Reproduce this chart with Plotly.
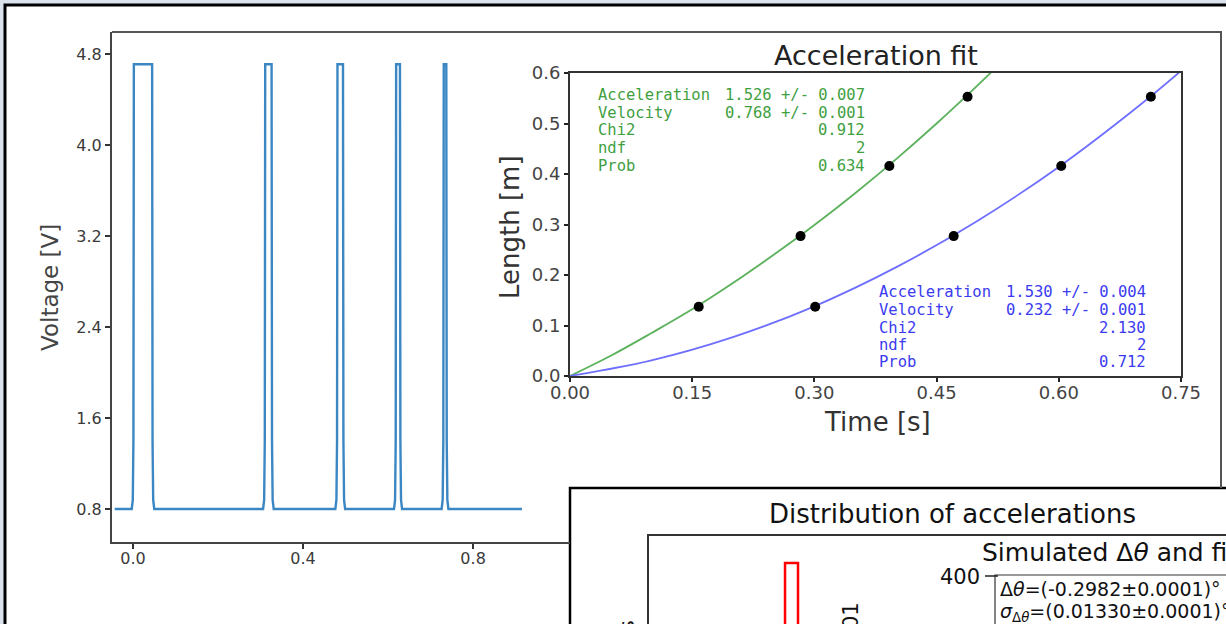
import plotly.graph_objects as go

W, H = 1226, 624
FONT = "DejaVu Sans"
MONO = "DejaVu Sans Mono"


def fx(p):
    return p / W


def fy(p):
    return 1 - p / H


# ---------------- data ----------------
# voltage signal: pulse start / end times [s]
pulse_start = [0.002, 0.311, 0.481, 0.619, 0.731]
pulse_end = [0.045, 0.326, 0.494, 0.628, 0.737]
v_low = 0.80
v_high = 4.71
t_first = -0.043
t_last = 0.915

volt_ticks = [0.8, 1.6, 2.4, 3.2, 4.0, 4.8]
volt_tlabels = ["0.8", "1.6", "2.4", "3.2", "4.0", "4.8"]
time_ticks = [0.0, 0.4, 0.8]
time_tlabels = ["0.0", "0.4", "0.8"]

# acceleration fit: measured points
green_t = [0.158, 0.283, 0.392, 0.488]
green_l = [0.137, 0.277, 0.416, 0.553]
blue_t = [0.301, 0.471, 0.603, 0.713]
blue_l = [0.137, 0.277, 0.416, 0.553]
# fitted curves
green_fit_t = [0.0, 0.05, 0.10, 0.15, 0.20, 0.25, 0.30, 0.35, 0.40, 0.45, 0.50, 0.53]
green_fit_l = [0.0, 0.040, 0.085, 0.132, 0.184, 0.240, 0.299, 0.362, 0.429, 0.500, 0.575, 0.622]
blue_fit_t = [0.0, 0.10, 0.20, 0.30, 0.40, 0.50, 0.60, 0.70, 0.76]
blue_fit_l = [0.0, 0.031, 0.077, 0.138, 0.215, 0.307, 0.414, 0.537, 0.618]

fit_x_ticks = [0.0, 0.15, 0.30, 0.45, 0.60, 0.75]
fit_x_labels = ["0.00", "0.15", "0.30", "0.45", "0.60", "0.75"]
fit_y_ticks = [0.0, 0.1, 0.2, 0.3, 0.4, 0.5, 0.6]
fit_y_labels = ["0.0", "0.1", "0.2", "0.3", "0.4", "0.5", "0.6"]

green_names = ["Acceleration", "Velocity", "Chi2", "ndf", "Prob"]
green_vals = ["1.526 +/- 0.007", "0.768 +/- 0.001", "0.912", "2", "0.634"]
blue_names = ["Acceleration", "Velocity", "Chi2", "ndf", "Prob"]
blue_vals = ["1.530 +/- 0.004", "0.232 +/- 0.001", "2.130", "2", "0.712"]

# distribution of accelerations (visible part)
hist_center = [1.5094]
hist_count = [200]
hist_width = 0.0045

# ---------------- colours ----------------
C_VOLT = "#3b87c4"
C_GREEN_LINE = "#5cb15c"
C_GREEN_TXT = "#3f9f3f"
C_BLUE_LINE = "#6f6fff"
C_BLUE_TXT = "#3b3bf0"

# build the step waveform from the pulse times (small rounded feet on each edge)
vt = [t_first]
vv = [v_low]
for s, e in zip(pulse_start, pulse_end):
    vt += [s - 0.005, s - 0.0025, s - 0.001, s, e, e + 0.001, e + 0.0025, e + 0.005]
    vv += [v_low, v_low + 0.08, v_low + 0.6, v_high, v_high, v_low + 0.6, v_low + 0.08, v_low]
vt.append(t_last)
vv.append(v_low)

fig = go.Figure()

fig.add_trace(go.Scatter(x=vt, y=vv, mode="lines", line=dict(color=C_VOLT, width=2.4),
                         xaxis="x", yaxis="y", showlegend=False, hoverinfo="skip"))

fig.add_trace(go.Scatter(x=green_fit_t, y=green_fit_l, mode="lines", line_shape="spline",
                         line=dict(color=C_GREEN_LINE, width=1.8), xaxis="x2", yaxis="y2",
                         showlegend=False))
fig.add_trace(go.Scatter(x=blue_fit_t, y=blue_fit_l, mode="lines", line_shape="spline",
                         line=dict(color=C_BLUE_LINE, width=1.8), xaxis="x2", yaxis="y2",
                         showlegend=False))
fig.add_trace(go.Scatter(x=green_t, y=green_l, mode="markers",
                         marker=dict(color="black", size=10), xaxis="x2", yaxis="y2",
                         showlegend=False))
fig.add_trace(go.Scatter(x=blue_t, y=blue_l, mode="markers",
                         marker=dict(color="black", size=10), xaxis="x2", yaxis="y2",
                         showlegend=False))

fig.add_trace(go.Bar(x=hist_center, y=hist_count, width=hist_width,
                     marker=dict(color="white", line=dict(color="#ff0000", width=2.5)),
                     xaxis="x3", yaxis="y3", showlegend=False))

axis_common = dict(showgrid=False, zeroline=False, showline=True, ticks="outside",
                   automargin=False)

fig.update_layout(
    width=W, height=H,
    margin=dict(l=0, r=0, t=0, b=0, autoexpand=False),
    paper_bgcolor="#dde3ec",
    plot_bgcolor="rgba(0,0,0,0)",
    font=dict(family=FONT, color="#333"),
    xaxis=dict(domain=[fx(112), fx(570)], range=[-0.0494, 1.028], anchor="y",
               tickvals=time_ticks, ticktext=time_tlabels, linecolor="#444", linewidth=2,
               ticklen=5, tickwidth=2, tickcolor="#333", tickfont=dict(size=16, color="#3a3a3a"),
               ticklabelstandoff=-4, **axis_common),
    yaxis=dict(domain=[fy(542), fy(32)], range=[0.510, 4.993], anchor="x",
               tickvals=volt_ticks, ticktext=volt_tlabels, linecolor="#444", linewidth=2,
               ticklen=5, tickwidth=2, tickcolor="#333", tickfont=dict(size=16, color="#3a3a3a"),
               **axis_common),
    xaxis2=dict(domain=[fx(570), fx(1181)], range=[0, 0.75], anchor="y2", mirror=True,
                tickvals=fit_x_ticks, ticktext=fit_x_labels, linecolor="#333", linewidth=2,
                ticklen=4, tickwidth=2, tickcolor="#222", tickfont=dict(size=18, color="#444"),
                ticklabelstandoff=-5, **axis_common),
    yaxis2=dict(domain=[fy(376), fy(73)], range=[0, 0.6], anchor="x2", mirror=True,
                tickvals=fit_y_ticks, ticktext=fit_y_labels, linecolor="#333", linewidth=2,
                ticklen=4, tickwidth=2, tickcolor="#222", tickfont=dict(size=18, color="#444"),
                **axis_common),
    xaxis3=dict(domain=[fx(649), 1], range=[1.46, 1.66], anchor="y3", side="top",
                showgrid=False, zeroline=False, showline=True, linecolor="#333", linewidth=1.5,
                showticklabels=False, ticks="", automargin=False),
    yaxis3=dict(domain=[0, fy(536)], range=[20, 280], anchor="x3",
                showgrid=False, zeroline=False, showline=True, linecolor="#333", linewidth=1.5,
                showticklabels=False, ticks="", automargin=False),
)

shapes = [
    # outer black frame of the collage
    dict(type="rect", xref="paper", yref="paper", x0=fx(5), y0=fy(5), x1=fx(1260), y1=fy(680),
         line=dict(color="black", width=3), fillcolor="white", layer="below"),
    # voltage plot top / right spines
    dict(type="line", xref="paper", yref="paper", x0=fx(112), y0=fy(32), x1=fx(1222), y1=fy(32),
         line=dict(color="#555", width=2)),
    dict(type="line", xref="paper", yref="paper", x0=fx(1221), y0=fy(32), x1=fx(1221), y1=fy(488),
         line=dict(color="#555", width=2)),
    # distribution panel frame
    dict(type="rect", xref="paper", yref="paper", x0=fx(570), y0=fy(488), x1=fx(1260), y1=fy(680),
         line=dict(color="black", width=2.5), fillcolor="white", layer="below"),
    # stats box of the simulated panel
    dict(type="rect", xref="paper", yref="paper", x0=fx(995), y0=fy(575), x1=fx(1260), y1=fy(680),
         line=dict(color="#333", width=1.2), fillcolor="white", layer="above"),
    # 400 tick
    dict(type="line", xref="paper", yref="paper", x0=fx(985), y0=fy(576), x1=fx(998), y1=fy(576),
         line=dict(color="#222", width=1.5)),
]

ann = []


def txt(x, y, s, size, color="#222", xanchor="center", yanchor="middle", angle=0, family=FONT):
    ann.append(dict(x=fx(x), y=fy(y), xref="paper", yref="paper", text=s, showarrow=False,
                    xanchor=xanchor, yanchor=yanchor, textangle=angle,
                    font=dict(size=size, color=color, family=family)))


txt(50, 288, "Voltage [V]", 23, "#444", angle=-90)
txt(876, 55, "Acceleration fit", 27, "#222")
txt(510, 227, "Length [m]", 26, "#333", angle=-90)
txt(877, 422, "Time [s]", 26, "#333")

green_y = [95, 112.7, 130, 147.7, 165.5]
blue_y = [291.5, 309.5, 327.5, 345, 362]
for i in range(5):
    txt(596, green_y[i], green_names[i], 15.5, C_GREEN_TXT, xanchor="left", family=MONO)
    txt(867, green_y[i], green_vals[i], 15.5, C_GREEN_TXT, xanchor="right", family=MONO)
    txt(877, blue_y[i], blue_names[i], 15.5, C_BLUE_TXT, xanchor="left", family=MONO)
    txt(1148, blue_y[i], blue_vals[i], 15.5, C_BLUE_TXT, xanchor="right", family=MONO)

txt(952, 514, "Distribution of accelerations", 26, "#111")
txt(980, 552, "Simulated Δ<i>θ</i> and fit", 25, "#111", xanchor="left")
txt(982, 577, "400", 21, "#111", xanchor="right")
txt(998, 589, "Δ<i>θ</i>=(-0.2982±0.0001)°", 19, "#111", xanchor="left")
txt(998, 612, "<i>σ</i><sub>Δ<i>θ</i></sub>=(0.01330±0.0001)°", 19, "#111", xanchor="left")
txt(851, 600, "Entries / 0.001", 21, "#111", yanchor="top", angle=-90)
txt(626, 618, "Counts", 21, "#111", yanchor="top", angle=-90)

fig.update_layout(shapes=shapes, annotations=ann)
fig.write_html("out.html")
